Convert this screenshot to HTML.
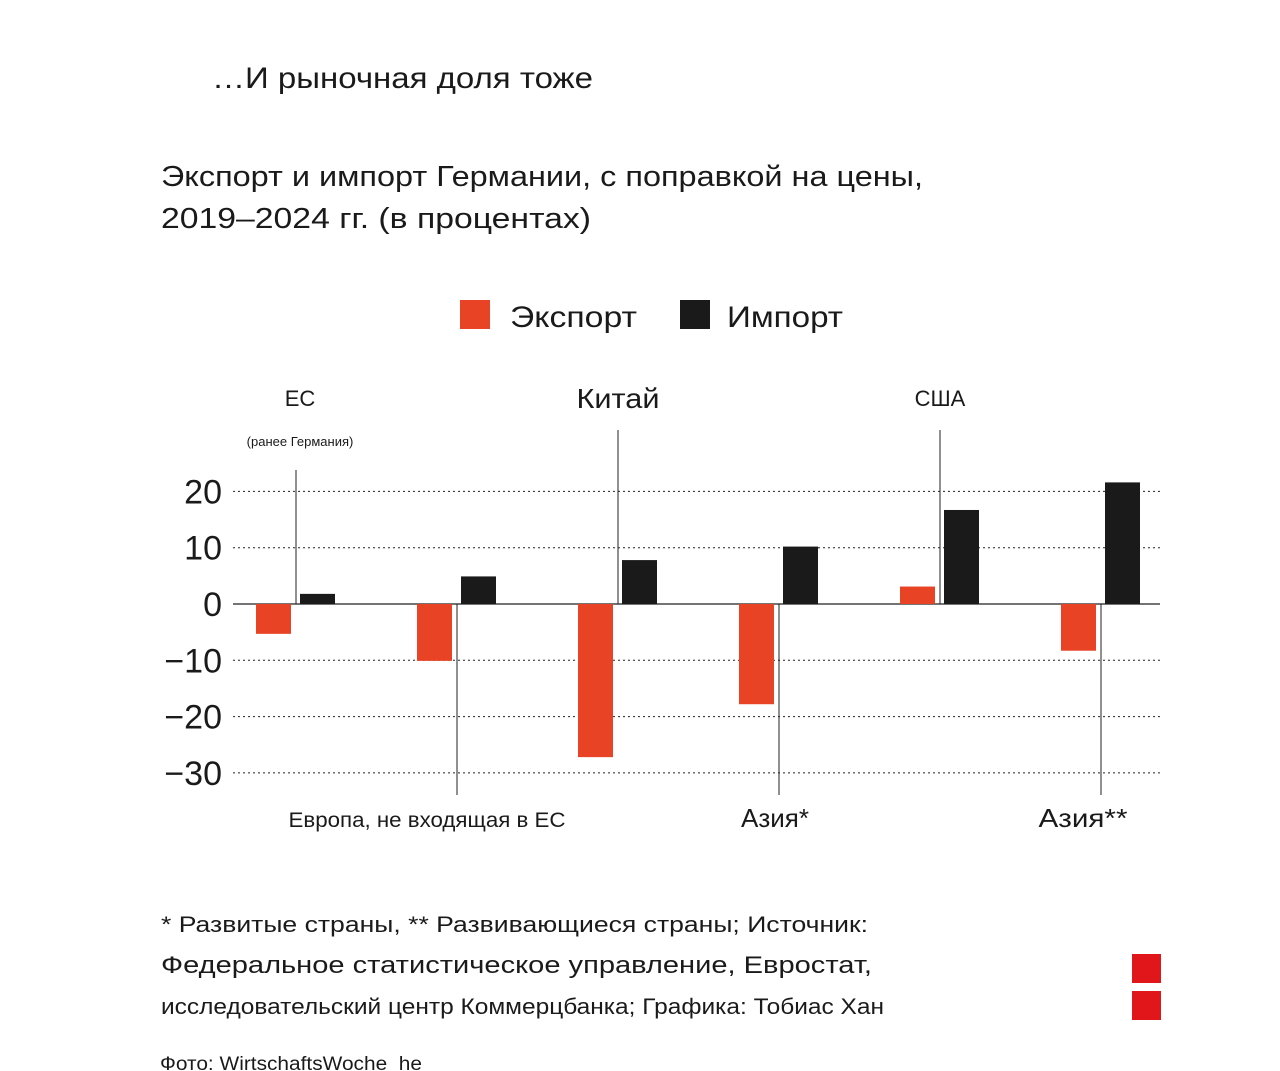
<!DOCTYPE html>
<html><head><meta charset="utf-8"><style>
html,body{margin:0;padding:0;background:#fff;width:1280px;height:1071px;overflow:hidden}
svg text{font-family:"Liberation Sans","DejaVu Sans",sans-serif;fill:#1a1a1a}
</style></head><body>
<svg id="c" width="1280" height="1071" xmlns="http://www.w3.org/2000/svg">
<text x="212" y="88" font-size="30" textLength="381" lengthAdjust="spacingAndGlyphs">…И рыночная доля тоже</text>
<text x="161" y="186" font-size="29" textLength="762" lengthAdjust="spacingAndGlyphs">Экспорт и импорт Германии, с поправкой на цены,</text>
<text x="161" y="228" font-size="29" textLength="430" lengthAdjust="spacingAndGlyphs">2019–2024 гг. (в процентах)</text>
<rect x="460" y="300" width="30" height="29" fill="#e84325"/>
<text x="510" y="327" font-size="30" textLength="127" lengthAdjust="spacingAndGlyphs">Экспорт</text>
<rect x="680" y="300" width="30" height="29" fill="#1a1a1a"/>
<text x="727" y="327" font-size="30" textLength="116" lengthAdjust="spacingAndGlyphs">Импорт</text>
<g id="plot"></g>
<text x="161" y="932" font-size="22" textLength="707" lengthAdjust="spacingAndGlyphs">* Развитые страны, ** Развивающиеся страны; Источник:</text>
<text x="161" y="973" font-size="24" textLength="711" lengthAdjust="spacingAndGlyphs">Федеральное статистическое управление, Евростат,</text>
<text x="161" y="1014" font-size="22" textLength="723" lengthAdjust="spacingAndGlyphs">исследовательский центр Коммерцбанка; Графика: Тобиас Хан</text>
<text x="160" y="1070" font-size="19" fill="#555" textLength="262" lengthAdjust="spacingAndGlyphs">Фото: WirtschaftsWoche_he</text>
<rect x="1132" y="954" width="29" height="29" fill="#e0161b"/>
<rect x="1132" y="991" width="29" height="29" fill="#e0161b"/>
</svg>
<script>
const categories=["ЕС","Европа, не входящая в ЕС","Китай","Азия*","США","Азия**"];
const exportValues=[-5.3,-10.1,-27.2,-17.8,3.1,-8.3];
const importValues=[1.8,4.9,7.8,10.2,16.7,21.6];
const ticks=[20,10,0,-10,-20,-30];
const labelTop=[true,false,true,false,true,false];
const NS="http://www.w3.org/2000/svg";
const g=document.getElementById('plot');
const y=v=>604-v*5.63;
const gx=i=>256+i*161;
const BW=35;
function mk(t,a){const e=document.createElementNS(NS,t);for(const k in a)e.setAttribute(k,a[k]);g.appendChild(e);return e;}
ticks.forEach(t=>{
 const l=mk('line',{x1:233,x2:1160,y1:y(t),y2:y(t),stroke:'#222','stroke-width':t===0?1.3:1,'stroke-dasharray':t===0?'':'2,3'});
 
 
 const tx=mk('text',{x:222,y:y(t)+12,'font-size':34,'text-anchor':'end'});
 tx.textContent=t<0?'−'+(-t):String(t);
 
 
});
const labelLen=[null,277,83,null,null,89];
categories.forEach((c,i)=>{
 const x=gx(i);
 const ev=exportValues[i],iv=importValues[i];
 const eb=mk('rect',{x:x,width:BW,y:Math.min(y(0),y(ev)),height:Math.abs(y(ev)-y(0)),fill:'#e84325'});
 
 
 const ib=mk('rect',{x:x+44,width:BW,y:Math.min(y(0),y(iv)),height:Math.abs(y(iv)-y(0)),fill:'#1a1a1a'});
 
 
 const lx=x+40;
 let ln,tx;
 if(labelTop[i]){
  ln=mk('line',{x1:lx,x2:lx,y1:i===0?470:430,y2:y(0),stroke:'#222','stroke-width':1});
  tx=mk('text',{x:lx+(i===0?4:0),y:i===2?408:406,'font-size':i===2?28:22,'text-anchor':'middle'});
 }else{
  ln=mk('line',{x1:lx,x2:lx,y1:y(0),y2:795,stroke:'#222','stroke-width':1});
  tx=mk('text',{x:lx-(i===1?30:0)+(i===5?-18:0)-(i===3?4:0),y:827,'font-size':i===1?21:26,'text-anchor':'middle'});
 }
 if(labelLen[i]){tx.setAttribute('textLength',labelLen[i]);tx.setAttribute('lengthAdjust','spacingAndGlyphs');}
 
 
 tx.textContent=c;
 
 
});
const s=mk('text',{x:300,y:446,'font-size':13,'text-anchor':'middle'});
s.textContent='(ранее Германия)';


</script>
</body></html>
